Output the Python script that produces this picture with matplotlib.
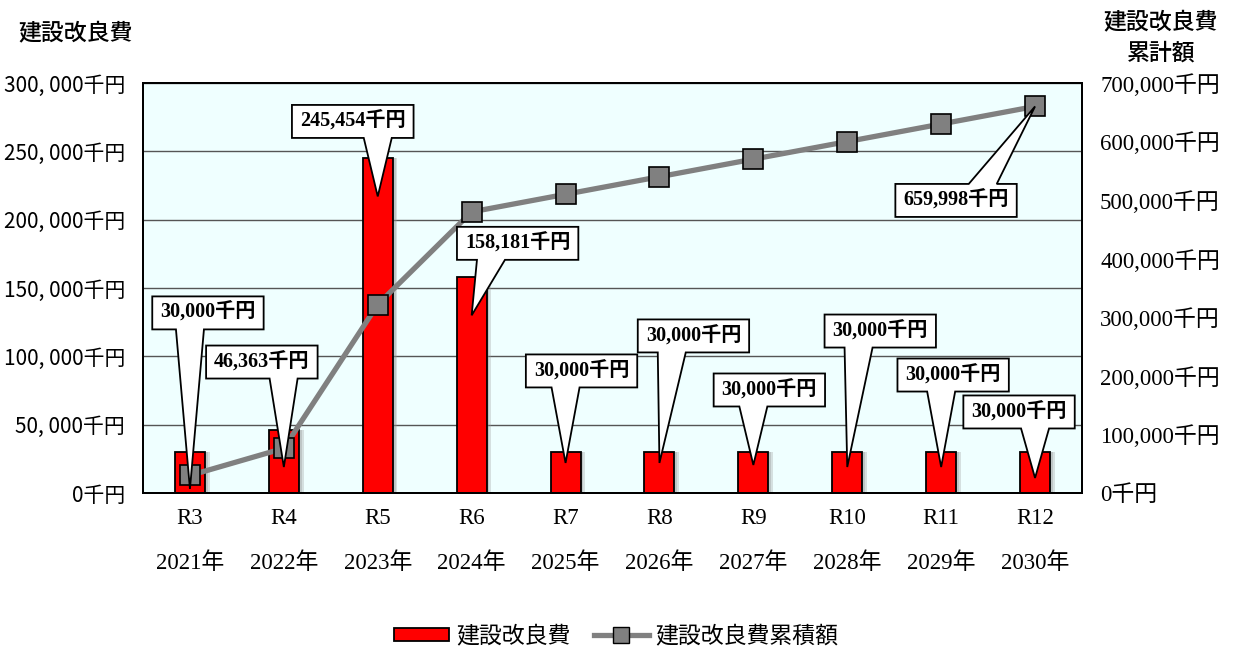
import matplotlib
matplotlib.use("Agg")
import matplotlib.pyplot as plt
from matplotlib.patches import Polygon, Patch
from matplotlib.lines import Line2D
from matplotlib.transforms import IdentityTransform
import numpy as np

JP = "Noto Sans CJK JP"
SERIF = ["Liberation Serif", JP]
plt.rcParams["font.family"] = [JP, "DejaVu Sans"]

# ── データ ─────────────────────────────────────────────
wareki = ["R3", "R4", "R5", "R6", "R7", "R8", "R9", "R10", "R11", "R12"]
seireki = ["2021年", "2022年", "2023年", "2024年", "2025年",
           "2026年", "2027年", "2028年", "2029年", "2030年"]
kairyo = [30000, 46363, 245454, 158181, 30000, 30000, 30000, 30000, 30000, 30000]
ruikei = [30000, 76363, 321817, 479998, 509998, 539998, 569998, 599998, 629998, 659998]
left_ticks = [0, 50000, 100000, 150000, 200000, 250000, 300000]
right_ticks = [0, 100000, 200000, 300000, 400000, 500000, 600000, 700000]

# 吹き出しの指し先(左軸の値)と箱のずれ(px)
tip_vals = [3000, 19000, 217000, 130000, 22000, 22000, 20500, 19000, 19000, 11000]
box_dx = [18, -22, -25, 46, 16, 34, 16, 33, 12, -16]
box_dy = [176, 105, 75, 72, 92, 127, 75, 136, 92, 66]

RED = "#FF0000"
GRAY = "#808080"

fig = plt.figure(figsize=(12.33, 6.48), dpi=100)
ax = fig.add_axes([143 / 1233, 155 / 648, 939 / 1233, 410 / 648])
ax2 = ax.twinx()

x = np.arange(len(wareki))
ax.set_facecolor("#EFFFFF")
ax.set_xlim(-0.5, len(wareki) - 0.5)
ax.set_ylim(0, 300000)
ax2.set_ylim(0, 700000)

# 棒(影付き)
ax.bar(x + 0.05, kairyo, width=0.32, color="#9a9a9a", alpha=0.3, zorder=2, linewidth=0)
ax.bar(x + 0.03, kairyo, width=0.32, color="#8a8a8a", alpha=0.3, zorder=2, linewidth=0)
ax.bar(x, kairyo, width=0.32, color=RED, edgecolor="black", linewidth=1.3, zorder=3)

# 累計線
ax2.plot(x, ruikei, color=GRAY, linewidth=3.8, marker="s", markersize=14,
         markerfacecolor=GRAY, markeredgecolor="black", markeredgewidth=1.2, zorder=5)

# 目盛・グリッド
ax.set_yticks(left_ticks)
ax.set_yticklabels([f"{v:,}".replace(",", ", ") + "千円" for v in left_ticks], fontsize=15)
ax2.set_yticks(right_ticks)
ax2.set_yticklabels([f"{v:,}千円" for v in right_ticks], family=SERIF, fontsize=16.5)
ax.tick_params(axis="y", length=0, pad=13)
ax2.tick_params(axis="y", length=0, pad=13)
ax.yaxis.grid(True, color="#555555", linewidth=1)
ax.set_axisbelow(True)
ax.set_xticks(x)
ax.set_xticklabels([])
ax.tick_params(axis="x", length=0)
for a in (ax, ax2):
    for s in a.spines.values():
        s.set_linewidth(1.4)
        s.set_color("black")

xt = ax.get_xaxis_transform()
for i in x:
    ax.text(i, -25 / 410, wareki[i], transform=xt, ha="center", va="center",
            family=SERIF, fontsize=16.5)
    ax.text(i, -70 / 410, seireki[i], transform=xt, ha="center", va="center",
            family=SERIF, fontsize=16.5)

# 軸タイトル
fig.text(76 / 1233, 1 - 33 / 648, "建設改良費", ha="center", va="center", fontsize=16.5,
         fontweight="medium")
fig.text(1161 / 1233, 1 - 22 / 648, "建設改良費", ha="center", va="center", fontsize=16.5,
         fontweight="medium")
fig.text(1161 / 1233, 1 - 53 / 648, "累計額", ha="center", va="center", fontsize=16.5,
         fontweight="medium")

# 吹き出し
renderer = fig.canvas.get_renderer()


def callout(axis, text, tip, dx, dy, pad=8, h=33, hw=14):
    tx, ty = tip
    cx, cy = tx + dx, ty + dy
    t = axis.text(cx, cy, text, transform=IdentityTransform(), ha="center", va="center",
                  family=SERIF, fontsize=14.5, fontweight="bold", zorder=12, clip_on=False)
    w = t.get_window_extent(renderer).width + 2 * pad
    x0, x1, y0, y1 = cx - w / 2, cx + w / 2, cy - h / 2, cy + h / 2
    bc = float(np.clip(tx, x0 + 34, x1 - 34))
    if ty < y0:
        pts = [(x0, y1), (x1, y1), (x1, y0), (bc + hw, y0), (tx, ty), (bc - hw, y0), (x0, y0)]
    else:
        pts = [(x0, y0), (x1, y0), (x1, y1), (bc + hw, y1), (tx, ty), (bc - hw, y1), (x0, y1)]
    axis.add_patch(Polygon(pts, closed=True, transform=IdentityTransform(), facecolor="white",
                           edgecolor="black", linewidth=1.3, zorder=11, clip_on=False))


for i in x:
    tip = ax.transData.transform((i, tip_vals[i]))
    callout(ax2, f"{kairyo[i]:,}千円", tip, box_dx[i], box_dy[i])
tip = ax2.transData.transform((x[-1], ruikei[-1]))
callout(ax2, f"{ruikei[-1]:,}千円", tip, -79, -94)

# 凡例
handles = [Patch(facecolor=RED, edgecolor="black", linewidth=1.3),
           Line2D([], [], color=GRAY, linewidth=3.8, marker="s", markersize=11,
                  markerfacecolor=GRAY, markeredgecolor="black")]
fig.legend(handles, ["建設改良費", "建設改良費累積額"], loc="center", ncol=2,
           bbox_to_anchor=(0.5, 12 / 648), frameon=False, fontsize=16.5,
           handlelength=2.4, handleheight=0.5, columnspacing=1.0, handletextpad=0.3)

fig.savefig("out.png", dpi=100)
